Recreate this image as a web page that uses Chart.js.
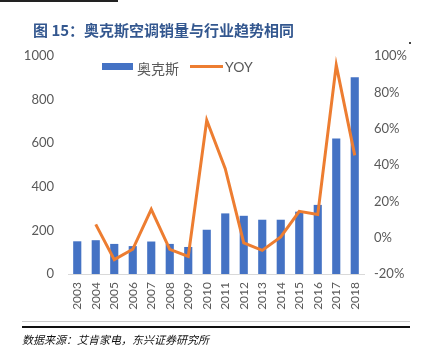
<!DOCTYPE html>
<html><head><meta charset="utf-8">
<script src="https://cdn.jsdelivr.net/npm/chart.js@4"></script>
<style>
html,body{margin:0;padding:0;background:#fff;width:422px;height:354px;overflow:hidden;}
#wrap{position:relative;width:422px;height:354px;}
canvas{position:absolute;left:0;top:0;}
.abs{position:absolute;white-space:nowrap;}
#title{left:33px;top:19px;font:bold 15px "Noto Sans CJK SC",sans-serif;color:#33578F;}
#topline{left:0;top:0;width:118px;height:2px;background:#222;}
#dot{left:409px;top:42px;width:2px;height:2px;background:#444;}
#gray{left:22px;top:321px;width:388px;height:1px;background:#ccc;}
#black{left:22px;top:326px;width:388px;height:2px;background:#111;}
#src{left:22px;top:331px;font:italic 11px "Noto Sans CJK SC",sans-serif;color:#111;}
.leg{font:14px "Noto Sans CJK SC",sans-serif;color:#595959;top:58px;}
</style></head>
<body><div id="wrap">
<canvas id="c" width="422" height="354"></canvas>
<div class="abs" id="topline"></div>
<div class="abs" id="title">图 15：奥克斯空调销量与行业趋势相同</div>
<div class="abs" id="dot"></div>
<div class="abs" style="left:102px;top:63px;width:31px;height:7px;background:#4472C4"></div>
<div class="abs leg" style="left:137px;">奥克斯</div>
<div class="abs" style="left:190px;top:65px;width:33px;height:3px;background:#ED7D31"></div>
<div class="abs leg" style="left:225px;font-family:Lato,sans-serif;">YOY</div>
<div class="abs" id="gray"></div>
<div class="abs" id="black"></div>
<div class="abs" id="src">数据来源：艾肯家电，东兴证券研究所</div>
</div>
<script>
const years = ['2003','2004','2005','2006','2007','2008','2009','2010','2011','2012','2013','2014','2015','2016','2017','2018'];
const sales = [150,155,138,128,149,138,124,203,278,267,249,249,286,317,622,903];
const yoy = [null,7.3,-12.1,-6.4,15.6,-6.4,-10.3,64.6,38,-2.9,-7,0.4,14.5,12.8,95,45.3];
const leftTicks = [0,200,400,600,800,1000];
const rightTicks = [-20,0,20,40,60,80,100];

const tickFont = {family:'Lato, sans-serif', size:13};
new Chart(document.getElementById('c'), {
  data: {
    labels: years,
    datasets: [
      {type:'line', label:'YOY', data:yoy, yAxisID:'y1', borderColor:'#ED7D31', borderWidth:3, pointRadius:0, tension:0, order:0},
      {type:'bar', label:'奥克斯', data:sales, yAxisID:'y', backgroundColor:'#4472C4', barPercentage:0.44, categoryPercentage:1, order:1}
    ]
  },
  options: {
    responsive:false, animation:false,
    layout:{padding:{top:56,left:0,right:0,bottom:0}},
    plugins:{legend:{display:false}, tooltip:{enabled:false}},
    scales:{
      x:{grid:{display:false, drawTicks:false}, border:{color:'#d9d9d9'},
         ticks:{color:'#595959', font:{family:'Lato, sans-serif', size:12}, minRotation:90, maxRotation:90, padding:8, autoSkip:false},
         afterFit:(s)=>{s.height=80;}},
      y:{position:'left', min:0, max:1000, grid:{display:false, drawTicks:false}, border:{display:false},
         afterBuildTicks:(s)=>{s.ticks=leftTicks.map(v=>({value:v}));},
         ticks:{color:'#595959', font:tickFont, padding:14, callback:(v)=>String(v)},
         afterFit:(s)=>{s.width=68;}},
      y1:{position:'right', min:-20, max:100, grid:{display:false, drawTicks:false}, border:{display:false},
         afterBuildTicks:(s)=>{s.ticks=rightTicks.map(v=>({value:v}));},
         ticks:{color:'#595959', font:tickFont, padding:10, callback:(v)=>v+'%'},
         afterFit:(s)=>{s.width=58;}}
    }
  }
});
</script>
</body></html>
